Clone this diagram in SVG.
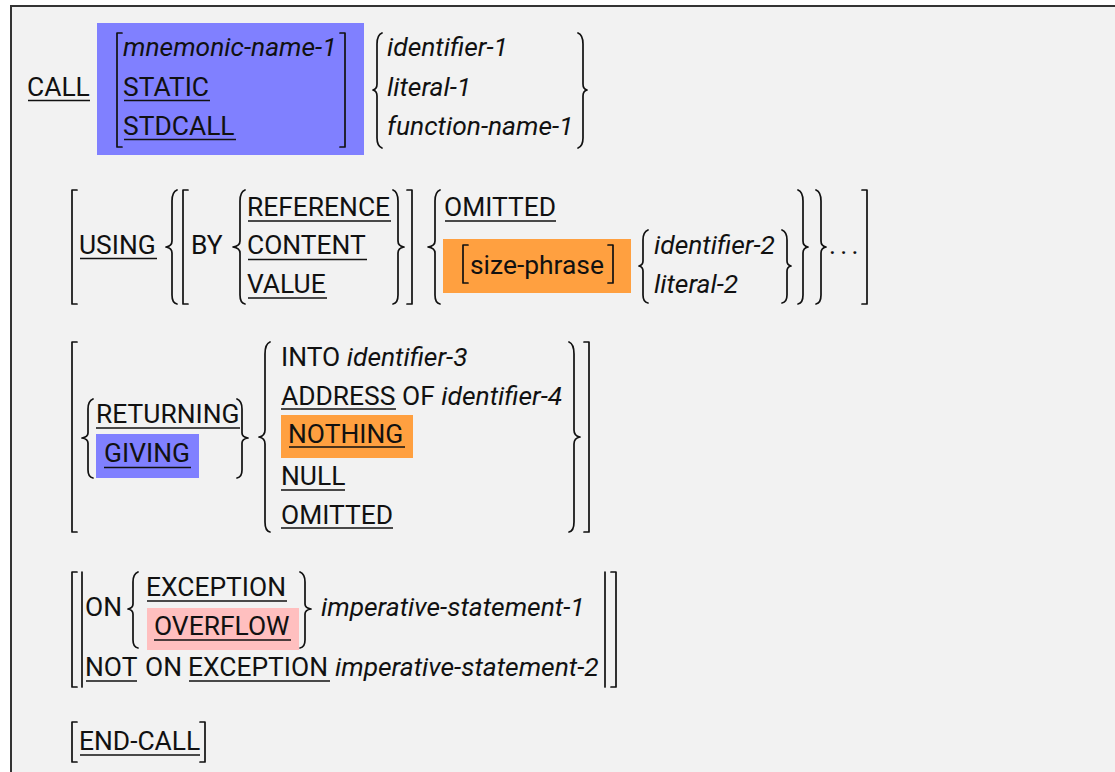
<svg xmlns="http://www.w3.org/2000/svg" width="1115" height="772" viewBox="0 0 1115 772">
  <style>
    text { font-family: Roboto, "Liberation Sans", sans-serif; font-size: 26.4px; fill: #111; }
    .i { font-style: italic; }
    .u { stroke: #111; stroke-width: 1.5; }
    .b { fill: none; stroke: #111; stroke-width: 1.7; stroke-linejoin: round; stroke-linecap: round; }
    .blue { fill: #8080ff; }
    .orange { fill: #ffa040; }
    .pink { fill: #ffbfbf; }
  </style>

  <!-- page frame -->
  <rect x="0" y="0" width="1115" height="772" fill="#ffffff"/>
  <rect x="11" y="6" width="1120" height="800" fill="#f2f2f2" stroke="#333" stroke-width="2"/>

  <!-- highlight boxes -->
  <g id="highlights">
    <rect class="blue" x="97" y="23" width="267" height="132"/>
    <rect class="orange" x="443" y="239" width="188" height="54"/>
    <rect class="blue" x="96" y="434" width="103" height="44"/>
    <rect class="orange" x="281" y="415" width="132" height="43"/>
    <rect class="pink" x="147" y="608" width="152" height="42"/>
  </g>

  <!-- brackets and braces -->
  <g id="connectors">
    <!-- clause 1 -->
    <path class="b" d="M122,33 H117 V147 H122"/>
    <path class="b" d="M340,33 H345 V147 H340"/>
    <path class="b" d="M382,33 Q377,35 377,44 L377,84 Q377,89 373,90 Q377,91 377,96 L377,138 Q377,146 382,148"/>
    <path class="b" d="M578,33 Q583,35 583,44 L583,84 Q583,89 587,90 Q583,91 583,96 L583,138 Q583,146 578,148"/>

    <!-- USING clause -->
    <path class="b" d="M77,190 H72 V304 H77"/>
    <path class="b" d="M177,190 Q172,192 172,201 L172,241 Q172,246 166,247 Q172,248 172,253 L172,295 Q172,303 177,304"/>
    <path class="b" d="M188,190 H183 V304 H188"/>
    <path class="b" d="M245,190 Q240,192 240,201 L240,241 Q240,246 233,247 Q240,248 240,253 L240,295 Q240,303 245,304"/>
    <path class="b" d="M393,190 Q398,192 398,201 L398,241 Q398,246 404,247 Q398,248 398,253 L398,295 Q398,303 393,304"/>
    <path class="b" d="M407,190 H412 V304 H407"/>
    <path class="b" d="M440,190 Q435,192 435,201 L435,241 Q435,246 428,247 Q435,248 435,253 L435,295 Q435,303 440,304"/>
    <path class="b" d="M468,245 H463 V283 H468"/>
    <path class="b" d="M608,245 H613 V283 H608"/>
    <path class="b" d="M648,230 Q643,232 643,240 L643,261 Q643,265 639,266 Q643,267 643,271 L643,295 Q643,302 648,303"/>
    <path class="b" d="M782,230 Q787,232 787,240 L787,261 Q787,265 791,266 Q787,267 787,271 L787,295 Q787,302 782,303"/>
    <path class="b" d="M798,190 Q803,192 803,201 L803,241 Q803,246 808,247 Q803,248 803,253 L803,295 Q803,303 798,304"/>
    <path class="b" d="M816,190 Q821,192 821,201 L821,241 Q821,246 826,247 Q821,248 821,253 L821,295 Q821,303 816,304"/>
    <path class="b" d="M862,190 H867 V304 H862"/>

    <!-- RETURNING clause -->
    <path class="b" d="M77,342 H72 V532 H77"/>
    <path class="b" d="M93,399 Q88,401 88,409 L88,433 Q88,437 82,438 Q88,439 88,443 L88,470 Q88,477 93,478"/>
    <path class="b" d="M237,399 Q242,401 242,409 L242,433 Q242,437 248,438 Q242,439 242,443 L242,470 Q242,477 237,478"/>
    <path class="b" d="M270,342 Q265,344 265,354 L265,430 Q265,436 259,437 Q265,438 265,444 L265,522 Q265,531 270,532"/>
    <path class="b" d="M569,342 Q574,344 574,354 L574,430 Q574,436 580,437 Q574,438 574,444 L574,522 Q574,531 569,532"/>
    <path class="b" d="M584,342 H589 V532 H584"/>

    <!-- EXCEPTION clause -->
    <path class="b" d="M77,572 H72 V687 H77"/>
    <path class="b" d="M82,572 V687"/>
    <path class="b" d="M138,572 Q133,574 133,582 L133,604 Q133,608 128,609 Q133,610 133,614 L133,640 Q133,647 138,648"/>
    <path class="b" d="M300,572 Q305,574 305,582 L305,604 Q305,608 311,609 Q305,610 305,614 L305,640 Q305,647 300,648"/>
    <path class="b" d="M605,572 V687"/>
    <path class="b" d="M611,572 H616 V687 H611"/>

    <!-- END-CALL -->
    <path class="b" d="M77,722 H72 V762 H77"/>
    <path class="b" d="M200,722 H205 V762 H200"/>
  </g>

  <!-- clause 1: CALL -->
  <g id="call">
    <text x="27" y="96">CALL</text>
    <line class="u" x1="28" y1="100.5" x2="90" y2="100.5"/>
  </g>
  <g id="call-convention">
    <text class="i" x="123" y="56">mnemonic-name-1</text>
    <text x="123" y="96">STATIC</text>
    <line class="u" x1="124" y1="100.5" x2="210" y2="100.5"/>
    <text x="123" y="135">STDCALL</text>
    <line class="u" x1="124" y1="139.5" x2="236" y2="139.5"/>
  </g>
  <g id="call-target">
    <text class="i" x="387" y="56">identifier-1</text>
    <text class="i" x="387" y="96">literal-1</text>
    <text class="i" x="387" y="135">function-name-1</text>
  </g>

  <!-- USING clause -->
  <g id="using">
    <text x="79" y="254">USING</text>
    <line class="u" x1="80" y1="258.5" x2="157" y2="258.5"/>
  </g>
  <g id="by-mode">
    <text x="191" y="254">BY</text>
    <text x="247" y="216">REFERENCE</text>
    <line class="u" x1="248" y1="221" x2="391" y2="221"/>
    <text x="247" y="254">CONTENT</text>
    <line class="u" x1="248" y1="259.5" x2="367" y2="259.5"/>
    <text x="247" y="293">VALUE</text>
    <line class="u" x1="248" y1="298" x2="327" y2="298"/>
  </g>
  <g id="using-args">
    <text x="444" y="216">OMITTED</text>
    <line class="u" x1="445" y1="221" x2="556" y2="221"/>
    <text x="470" y="274">size-phrase</text>
    <text class="i" x="654" y="254">identifier-2</text>
    <text class="i" x="654" y="293">literal-2</text>
    <text x="829" y="254" letter-spacing="4.3">...</text>
  </g>

  <!-- RETURNING clause -->
  <g id="returning">
    <text x="96" y="423">RETURNING</text>
    <line class="u" x1="96" y1="428" x2="240" y2="428"/>
    <text x="104" y="462">GIVING</text>
    <line class="u" x1="104" y1="467.5" x2="191" y2="467.5"/>
  </g>
  <g id="returning-target">
    <text x="281" y="366">INTO <tspan class="i">identifier-3</tspan></text>
    <text x="281" y="405">ADDRESS OF <tspan class="i">identifier-4</tspan></text>
    <line class="u" x1="281" y1="409" x2="396" y2="409"/>
    <text x="288" y="443">NOTHING</text>
    <line class="u" x1="289" y1="447" x2="405" y2="447"/>
    <text x="281" y="485">NULL</text>
    <line class="u" x1="281" y1="490" x2="345" y2="490"/>
    <text x="281" y="524">OMITTED</text>
    <line class="u" x1="281" y1="528" x2="393" y2="528"/>
  </g>

  <!-- EXCEPTION clause -->
  <g id="on-exception">
    <text x="85" y="616">ON</text>
    <text x="146" y="596">EXCEPTION</text>
    <line class="u" x1="147" y1="601" x2="287" y2="601"/>
    <text x="154" y="635">OVERFLOW</text>
    <line class="u" x1="154" y1="640" x2="291" y2="640"/>
    <text class="i" x="321" y="616">imperative-statement-1</text>
  </g>
  <g id="not-on-exception">
    <text x="85" y="676">NOT</text>
    <text x="145" y="676">ON</text>
    <text x="188" y="676">EXCEPTION</text>
    <text class="i" x="335" y="676">imperative-statement-2</text>
    <line class="u" x1="86" y1="681" x2="137" y2="681"/>
    <line class="u" x1="189" y1="681" x2="330" y2="681"/>
  </g>

  <!-- END-CALL -->
  <g id="end-call">
    <text x="79" y="750">END-CALL</text>
    <line class="u" x1="80" y1="755" x2="200" y2="755"/>
  </g>
</svg>
